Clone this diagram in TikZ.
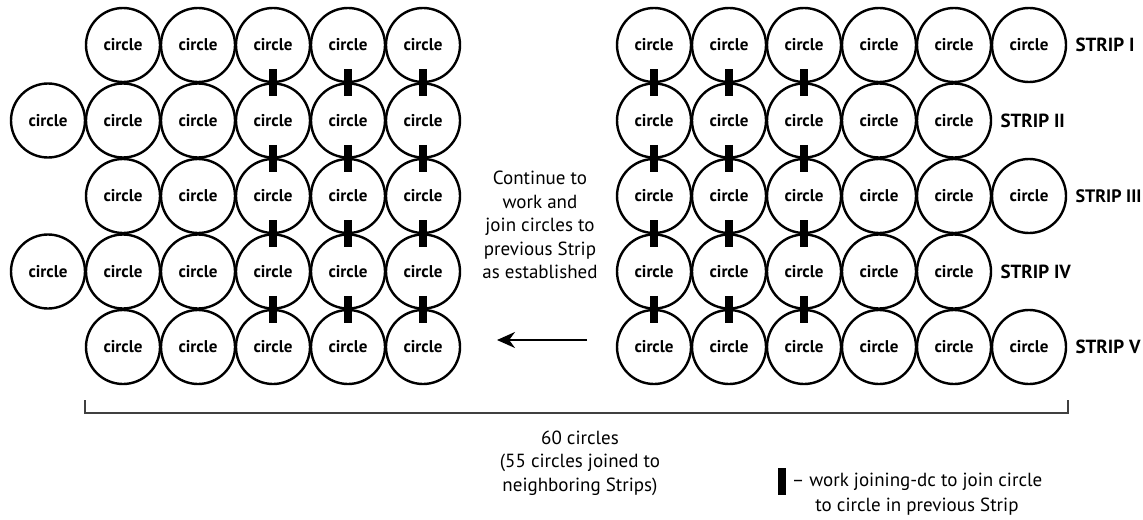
\documentclass[tikz,border=0pt]{standalone}
\usepackage{fontspec}
\setmainfont{PT Sans}
\usetikzlibrary{calc,positioning,arrows.meta}
\tikzset{
	ring/.style={draw, circle, line width=1.2pt, minimum size=37pt, inner sep=0pt, font=\fontsize{8.5}{10}\selectfont\bfseries},
	strip/.style={inner sep=0pt, font=\fontsize{9.5}{11}\selectfont\bfseries},
	note/.style={align=center, inner sep=0pt, font=\fontsize{9.5}{11.75}\selectfont},
}
\def\joinpair(#1)(#2){\draw[line width=4pt] ($(#1)!0.5!(#2)$) +(0,-13.5) -- +(0,13.5);}

\begin{document}
\begin{tikzpicture}[x=0.5pt, y=-0.5pt]
		%%%%% START %%%%%
		\useasboundingbox (0,0) rectangle (1143,519);
		
		% left block
		\node[ring] (L11) at (123, 45) {circle};
		\node[ring] (L12) at (198, 45) {circle};
		\node[ring] (L13) at (273, 45) {circle};
		\node[ring] (L14) at (348, 45) {circle};
		\node[ring] (L15) at (423, 45) {circle};
		
		\node[ring] (L20) at (48, 120.5) {circle};
		\node[ring] (L21) at (123, 120.5) {circle};
		\node[ring] (L22) at (198, 120.5) {circle};
		\node[ring] (L23) at (273, 120.5) {circle};
		\node[ring] (L24) at (348, 120.5) {circle};
		\node[ring] (L25) at (423, 120.5) {circle};
		
		\node[ring] (L31) at (123, 196) {circle};
		\node[ring] (L32) at (198, 196) {circle};
		\node[ring] (L33) at (273, 196) {circle};
		\node[ring] (L34) at (348, 196) {circle};
		\node[ring] (L35) at (423, 196) {circle};
		
		\node[ring] (L40) at (48, 271.5) {circle};
		\node[ring] (L41) at (123, 271.5) {circle};
		\node[ring] (L42) at (198, 271.5) {circle};
		\node[ring] (L43) at (273, 271.5) {circle};
		\node[ring] (L44) at (348, 271.5) {circle};
		\node[ring] (L45) at (423, 271.5) {circle};
		
		\node[ring] (L51) at (123, 347) {circle};
		\node[ring] (L52) at (198, 347) {circle};
		\node[ring] (L53) at (273, 347) {circle};
		\node[ring] (L54) at (348, 347) {circle};
		\node[ring] (L55) at (423, 347) {circle};
		
		\joinpair(L13)(L23) \joinpair(L14)(L24) \joinpair(L15)(L25)
		\joinpair(L23)(L33) \joinpair(L24)(L34) \joinpair(L25)(L35)
		\joinpair(L33)(L43) \joinpair(L34)(L44) \joinpair(L35)(L45)
		\joinpair(L43)(L53) \joinpair(L44)(L54) \joinpair(L45)(L55)
		
		% right block
		\node[ring] (R11) at (654, 45) {circle};
		\node[ring] (R12) at (729, 45) {circle};
		\node[ring] (R13) at (804, 45) {circle};
		\node[ring] (R14) at (879, 45) {circle};
		\node[ring] (R15) at (954, 45) {circle};
		\node[ring] (R16) at (1029, 45) {circle};
		
		\node[ring] (R21) at (654, 120.5) {circle};
		\node[ring] (R22) at (729, 120.5) {circle};
		\node[ring] (R23) at (804, 120.5) {circle};
		\node[ring] (R24) at (879, 120.5) {circle};
		\node[ring] (R25) at (954, 120.5) {circle};
		
		\node[ring] (R31) at (654, 196) {circle};
		\node[ring] (R32) at (729, 196) {circle};
		\node[ring] (R33) at (804, 196) {circle};
		\node[ring] (R34) at (879, 196) {circle};
		\node[ring] (R35) at (954, 196) {circle};
		\node[ring] (R36) at (1029, 196) {circle};
		
		\node[ring] (R41) at (654, 271.5) {circle};
		\node[ring] (R42) at (729, 271.5) {circle};
		\node[ring] (R43) at (804, 271.5) {circle};
		\node[ring] (R44) at (879, 271.5) {circle};
		\node[ring] (R45) at (954, 271.5) {circle};
		
		\node[ring] (R51) at (654, 347) {circle};
		\node[ring] (R52) at (729, 347) {circle};
		\node[ring] (R53) at (804, 347) {circle};
		\node[ring] (R54) at (879, 347) {circle};
		\node[ring] (R55) at (954, 347) {circle};
		\node[ring] (R56) at (1029, 347) {circle};
		
		\joinpair(R11)(R21) \joinpair(R12)(R22) \joinpair(R13)(R23)
		\joinpair(R21)(R31) \joinpair(R22)(R32) \joinpair(R23)(R33)
		\joinpair(R31)(R41) \joinpair(R32)(R42) \joinpair(R33)(R43)
		\joinpair(R41)(R51) \joinpair(R42)(R52) \joinpair(R43)(R53)
		
		\node[strip, right=4pt of R16] (s1) {STRIP I};
		\node[strip, right=4pt of R25] (s2) {STRIP II};
		\node[strip, right=4pt of R36, font=\fontsize{9}{10}\selectfont\bfseries] (s3) {STRIP III};
		\node[strip, right=4pt of R45] (s4) {STRIP IV};
		\node[strip, right=4pt of R56] (s5) {STRIP V};
		
		% direction of work
		\node[note] (cont) at (540, 225) {Continue to\\work and\\join circles to\\previous Strip\\as established};
		\coordinate (a0) at (587, 340);
		\coordinate (a1) at (497, 340);
		\draw[line width=1.1pt, -{Stealth[length=9pt, width=8pt]}] (a0) -- (a1);
		
		% count
		\coordinate (bl) at (85, 400);
		\coordinate (br) at (1068, 400);
		\draw[line width=1.3pt, color=black!75] (bl) -- ++(0,13) -| (br);
		\node[note] (total) at (580, 463) {60 circles\\(55 circles joined to\\neighboring Strips)};
		
		% key
		\node[note, font=\fontsize{9.5}{12.5}\selectfont] (key) at (917, 494.5) {-- work joining-dc to join circle\\to circle in previous Strip};
		\draw[line width=4pt] (781.5, 468) -- (781.5, 495);
		
		%%%%% END %%%%%
\end{tikzpicture}
\end{document}
